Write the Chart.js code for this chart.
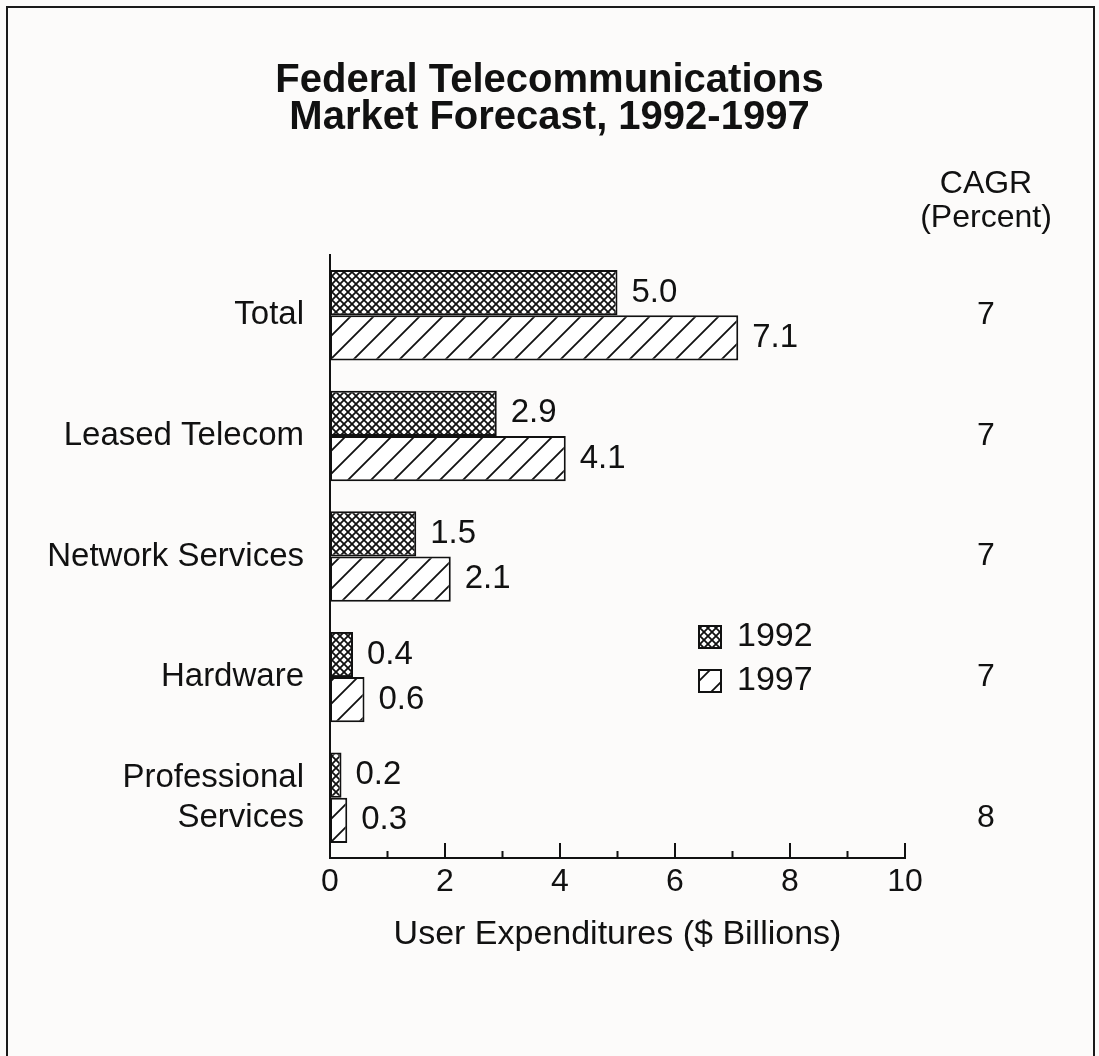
<!DOCTYPE html>
<html lang="en">
<head>
  <meta charset="UTF-8" />
  <title>Federal Telecommunications Market Forecast</title>
  <script src="https://cdn.jsdelivr.net/npm/chart.js@4.4.1/dist/chart.umd.min.js"></script>
  <style>
    html, body { margin: 0; padding: 0; background: #fcfbfa; overflow: hidden; }
    .frame { position: absolute; left: 6px; top: 6px; width: 1085px; height: 1100px; border: 2px solid #1a1a1a; pointer-events: none; }
    canvas { display: block; }
  </style>
</head>
<body>
  <div class="chart-wrapper" style="width:1099px;height:1056px;">
    <canvas id="market-graph" width="1099" height="1056"></canvas>
  </div>
  <div class="frame"></div>

<script>
  // segments and spending ($ billions)
  const segments = ['Total', 'Leased Telecom', 'Network Services', 'Hardware', ['Professional', 'Services']];
  const spend1992 = [5.0, 2.9, 1.5, 0.4, 0.2];
  const spend1997 = [7.1, 4.1, 2.1, 0.6, 0.3];
  const cagr = [7, 7, 7, 7, 8];
  const years = ['1992', '1997'];

  const FONT = '"Liberation Sans", Arial, Helvetica, sans-serif';
  const INK = '#111';
  Chart.defaults.font.family = FONT;
  Chart.defaults.color = INK;

  // fill patterns: dense crosshatch and wide diagonal hatch
  function crossPattern() {
    const c = document.createElement('canvas');
    c.width = 8; c.height = 8;
    const g = c.getContext('2d');
    g.fillStyle = '#fff';
    g.fillRect(0, 0, 8, 8);
    g.strokeStyle = INK;
    g.lineWidth = 1.8;
    g.beginPath();
    g.moveTo(-1, -1); g.lineTo(9, 9);
    g.moveTo(9, -1); g.lineTo(-1, 9);
    g.stroke();
    return g.createPattern(c, 'repeat');
  }

  function diagPattern() {
    const s = 23;
    const c = document.createElement('canvas');
    c.width = s; c.height = s;
    const g = c.getContext('2d');
    g.fillStyle = '#fff';
    g.fillRect(0, 0, s, s);
    g.strokeStyle = INK;
    g.lineWidth = 1.8;
    g.beginPath();
    g.moveTo(-2, s + 2); g.lineTo(s + 2, -2);
    g.moveTo(-2, 2); g.lineTo(2, -2);
    g.moveTo(s - 2, s + 2); g.lineTo(s + 2, s - 2);
    g.stroke();
    return g.createPattern(c, 'repeat');
  }

  const fills = [crossPattern(), diagPattern()];

  // value labels at the bar ends, tick marks, legend and CAGR heading
  const extras = {
    id: 'extras',
    beforeDraw(chart) {
      const ctx = chart.ctx;
      ctx.save();
      ctx.fillStyle = '#fcfbfa';
      ctx.fillRect(0, 0, chart.width, chart.height);
      ctx.restore();
    },
    afterDraw(chart) {
      const ctx = chart.ctx;
      const x = chart.scales.x;
      const area = chart.chartArea;
      ctx.save();

      // ticks point up into the plot
      ctx.strokeStyle = INK;
      ctx.lineWidth = 2;
      for (let v = 1; v <= 10; v++) {
        const px = x.getPixelForValue(v);
        const len = v % 2 === 0 ? 15 : 7;
        ctx.beginPath();
        ctx.moveTo(px, area.bottom);
        ctx.lineTo(px, area.bottom - len);
        ctx.stroke();
      }

      // value labels
      ctx.font = '33px ' + FONT;
      ctx.fillStyle = INK;
      ctx.textBaseline = 'middle';
      ctx.textAlign = 'left';
      chart.data.datasets.forEach((ds, i) => {
        chart.getDatasetMeta(i).data.forEach((bar, j) => {
          ctx.fillText(ds.data[j].toFixed(1), bar.x + 14, bar.y);
        });
      });

      // CAGR heading
      ctx.font = '32px ' + FONT;
      ctx.textAlign = 'center';
      ctx.fillText('CAGR', 986, 184);
      ctx.fillText('(Percent)', 986, 218);

      // legend
      ctx.font = '34px ' + FONT;
      const lx = 699;
      const ly = [637, 681];
      years.forEach((yr, i) => {
        ctx.fillStyle = fills[i];
        ctx.fillRect(lx, ly[i] - 11, 22, 22);
        ctx.strokeRect(lx, ly[i] - 11, 22, 22);
        ctx.fillStyle = INK;
        ctx.textAlign = 'left';
        ctx.fillText(yr, lx + 38, ly[i]);
      });
      ctx.restore();
    }
  };

  const myChart = new Chart(document.getElementById('market-graph').getContext('2d'), {
    type: 'bar',
    data: {
      labels: segments,
      datasets: years.map((yr, i) => ({
        label: yr,
        data: i === 0 ? spend1992 : spend1997,
        backgroundColor: fills[i],
        borderColor: INK,
        borderWidth: 2,
        borderSkipped: false,
        categoryPercentage: 0.75,
        barPercentage: 1.0
      }))
    },
    plugins: [extras],
    options: {
      indexAxis: 'y',
      responsive: false,
      animation: false,
      layout: { padding: 0 },
      plugins: {
        legend: { display: false },
        tooltip: { enabled: false },
        title: {
          display: true,
          text: ['Federal Telecommunications', 'Market Forecast, 1992-1997'],
          color: INK,
          font: { size: 40, weight: 'bold', lineHeight: 37 / 40 },
          padding: { top: 62, bottom: 119 }
        }
      },
      scales: {
        x: {
          min: 0,
          max: 10,
          grid: { display: false, drawTicks: false },
          border: { display: true, color: INK, width: 2 },
          ticks: {
            stepSize: 1,
            autoSkip: false,
            maxRotation: 0,
            padding: 5,
            font: { size: 32 },
            color: INK,
            callback: v => (v % 2 === 0 ? String(v) : '')
          },
          title: {
            display: true,
            text: 'User Expenditures ($ Billions)',
            color: INK,
            font: { size: 34 },
            padding: { top: 0, bottom: 101 }
          },
          afterFit(scale) { scale.height = 198; }
        },
        y: {
          grid: { display: false, drawTicks: false },
          border: { display: true, color: INK, width: 2 },
          ticks: { padding: 26, font: { size: 33 }, color: INK },
          afterFit(scale) { scale.width = 330; }
        },
        cagr: {
          type: 'category',
          position: 'right',
          // last rate sits on the second line of its two-line row
          labels: cagr.map((v, i) => (i === cagr.length - 1 ? ['', String(v)] : String(v))),
          grid: { display: false, drawTicks: false },
          border: { display: false },
          ticks: { padding: 72, crossAlign: 'center', font: { size: 32, lineHeight: 1.25 }, color: INK },
          afterFit(scale) { scale.width = 194; }
        }
      }
    }
  });
</script>
</body>
</html>
